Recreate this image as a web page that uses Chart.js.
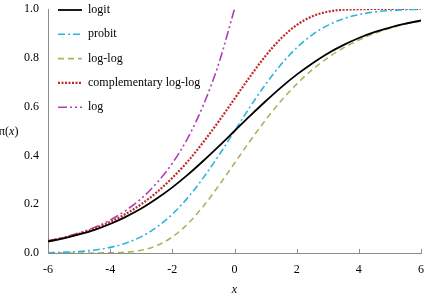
<!DOCTYPE html>
<html><head><meta charset="utf-8">
<script src="https://cdn.jsdelivr.net/npm/chart.js@4"></script>
<style>html,body{margin:0;padding:0;background:#fff}#wrap{width:434px;height:297px}</style>
</head><body><div id="wrap"><canvas id="c" width="434" height="297"></canvas></div>
<script>
const xValues = [-6,-5.5,-5,-4.5,-4,-3.5,-3,-2.5,-2,-1.5,-1,-0.5,0,0.5,1,1.5,2,2.5,3,3.5,4,4.5,5,5.5,6];
const logit = [0.047,0.060,0.076,0.095,0.119,0.148,0.182,0.223,0.269,0.321,0.378,0.438,0.500,0.562,0.622,0.679,0.731,0.777,0.818,0.852,0.881,0.905,0.924,0.940,0.953];
const probit = [0.001,0.003,0.006,0.012,0.023,0.040,0.067,0.106,0.159,0.227,0.309,0.401,0.500,0.599,0.691,0.773,0.841,0.894,0.933,0.960,0.977,0.988,0.994,0.997,0.999];
const loglog = [0.000,0.000,0.000,0.000,0.001,0.003,0.011,0.030,0.066,0.120,0.192,0.277,0.368,0.459,0.545,0.624,0.692,0.751,0.800,0.840,0.873,0.900,0.921,0.938,0.951];
const cloglog = [0.049,0.062,0.079,0.100,0.127,0.160,0.200,0.249,0.308,0.376,0.455,0.541,0.632,0.723,0.808,0.880,0.934,0.970,0.989,0.997,0.999,1.000,1.000,1.000,1.000];
const logLink = [0.050,0.064,0.082,0.105,0.135,0.174,0.223,0.287,0.368,0.472,0.607,0.779,1.000,null,null,null,null,null,null,null,null,null,null,null,null];
const seriesNames = ['logit','probit','log-log','complementary log-log','log'];
const xTicks = [-6,-4,-2,0,2,4,6];
const yTicks = [0,0.2,0.4,0.6,0.8,1.0];

const FONT = '"Liberation Serif","Times New Roman",serif';
const mk = (arr) => arr.map((v,i)=>({x:xValues[i], y:v}));
const styles = [
  {borderColor:'#000000', borderWidth:1.8, borderDash:[]},
  {borderColor:'#2fb4dc', borderWidth:1.6, borderDash:[7,3,2,3]},
  {borderColor:'#a8b55c', borderWidth:1.6, borderDash:[6,4]},
  {borderColor:'#c0282a', borderWidth:2.2, borderDash:[2,1.5]},
  {borderColor:'#b23cb4', borderWidth:1.6, borderDash:[9,3,2,3,2,3]}
];
const seriesData = [logit, probit, loglog, cloglog, logLink];
const datasets = seriesData.map((d,i)=>Object.assign({
  label: seriesNames[i], data: mk(d), pointRadius:0, fill:false,
  cubicInterpolationMode:'monotone', spanGaps:false
}, styles[i]));

const extras = {
  id:'extras',
  afterDraw(chart){
    const ctx = chart.ctx, ca = chart.chartArea, xs = chart.scales.x;
    ctx.save();
    ctx.strokeStyle = '#8c8c8c'; ctx.lineWidth = 1; ctx.setLineDash([]);
    xTicks.forEach(t=>{
      const px = Math.round(xs.getPixelForValue(t))+0.5;
      ctx.beginPath(); ctx.moveTo(px, ca.bottom); ctx.lineTo(px, ca.bottom-4); ctx.stroke();
    });
    ctx.fillStyle = '#000'; ctx.textBaseline='middle'; ctx.textAlign='left';
    ctx.font = '12px ' + FONT;
    ctx.fillText('π(', -1, 132);
    const w1 = ctx.measureText('π(').width;
    ctx.font = 'italic 12px ' + FONT;
    ctx.fillText('x', -1+w1, 132);
    const w2 = ctx.measureText('x').width;
    ctx.font = '12px ' + FONT;
    ctx.fillText(')', -1+w1+w2, 132);
    const lx0 = ca.left+10, lx1 = ca.left+34, tx = ca.left+40;
    chart.data.datasets.forEach((ds,i)=>{
      const y = 10 + i*24.3;
      ctx.strokeStyle = ds.borderColor; ctx.lineWidth = ds.borderWidth;
      ctx.setLineDash(ds.borderDash);
      ctx.beginPath(); ctx.moveTo(lx0, y); ctx.lineTo(lx1, y); ctx.stroke();
      ctx.setLineDash([]);
      ctx.fillStyle = '#000'; ctx.font = '12px ' + FONT; ctx.textAlign='left'; ctx.textBaseline='middle';
      ctx.fillText(ds.label, tx, y);
    });
    ctx.restore();
  }
};

new Chart(document.getElementById('c'), {
  type:'line',
  data:{datasets},
  plugins:[extras],
  options:{
    responsive:false, animation:false, devicePixelRatio:1,
    layout:{autoPadding:false, padding:{left:0,right:13,top:9,bottom:0}},
    plugins:{legend:{display:false}, tooltip:{enabled:false}},
    scales:{
      x:{type:'linear', min:-6, max:6,
        afterBuildTicks(s){ s.ticks = xTicks.map(v=>({value:v})); },
        afterFit(s){ s.height = 44; s.paddingLeft = 0; s.paddingRight = 0; },
        grid:{display:false, drawTicks:false},
        border:{display:true, color:'#8c8c8c', width:1},
        ticks:{padding:10, color:'#000', font:{family:FONT, size:12}, maxRotation:0, callback:v=>String(v)},
        title:{display:true, text:'x', color:'#000', font:{family:FONT, size:12, style:'italic'}, padding:{top:4,bottom:0}}
      },
      y:{type:'linear', min:0, max:1,
        afterBuildTicks(s){ s.ticks = yTicks.map(v=>({value:v})); },
        afterFit(s){ s.width = 48; s.paddingTop = 0; s.paddingBottom = 0; },
        grid:{display:false, drawTicks:false},
        border:{display:true, color:'#8c8c8c', width:1},
        ticks:{padding:9, color:'#000', font:{family:FONT, size:12}, callback:v=>Number(v).toFixed(1)}
      }
    }
  }
});
</script></body></html>
